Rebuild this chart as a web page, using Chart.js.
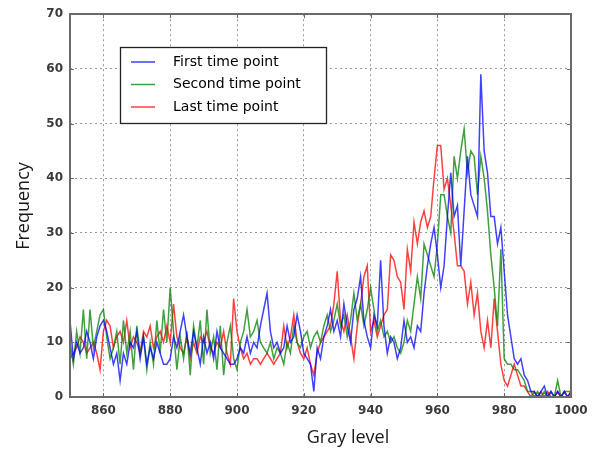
<!DOCTYPE html>
<html>
<head>
<meta charset="utf-8">
<script src="https://cdn.jsdelivr.net/npm/chart.js@4.4.0/dist/chart.umd.min.js"></script>
<style>
  html, body { margin: 0; padding: 0; background: #fff; }
  #wrap { width: 600px; height: 455px; }
</style>
</head>
<body>
<div id="wrap"><canvas id="histChart" width="600" height="455"></canvas></div>
<script>
// gray levels 850..1000, one bin per level
const grayStart = 850;
const xTicks = [860, 880, 900, 920, 940, 960, 980, 1000];
const yTicks = [0, 10, 20, 30, 40, 50, 60, 70];
const seriesNames = ["First time point", "Second time point", "Last time point"];

const firstPoint = [
  14, 7, 10, 8, 9, 12, 10, 7, 11, 13, 14, 12, 9, 6, 8, 3, 8, 6, 10, 9,
  12, 7, 11, 6, 9, 7, 10, 8, 6, 6, 7, 11, 9, 12, 15, 11, 8, 12, 9, 6,
  11, 8, 10, 7, 12, 9, 8, 7, 6, 6, 7, 9, 8, 11, 8, 10, 9, 13, 16, 19,
  12, 9, 10, 8, 9, 13, 10, 11, 15, 12, 8, 7, 6, 1, 9, 7, 11, 13, 16, 12,
  14, 11, 17, 13, 10, 16, 18, 22, 14, 11, 9, 15, 13, 25, 13, 8, 11, 10, 7, 9,
  14, 10, 11, 9, 13, 12, 19, 24, 28, 31, 26, 20, 24, 33, 41, 33, 35, 24, 34, 44,
  37, 35, 33, 59, 45, 41, 33, 33, 28, 31, 23, 15, 11, 7, 6, 7, 4, 3, 1, 1,
  0, 1, 2, 0, 1, 0, 1, 0, 1, 0, 1
];
const secondPoint = [
  10, 6, 12, 8, 16, 7, 16, 9, 12, 15, 16, 11, 7, 9, 12, 6, 14, 8, 12, 5,
  13, 8, 11, 5, 10, 6, 14, 8, 16, 10, 20, 12, 5, 11, 7, 12, 4, 13, 9, 14,
  6, 16, 8, 11, 5, 13, 4, 10, 13, 7, 5, 10, 12, 16, 11, 12, 14, 10, 9, 8,
  10, 7, 9, 8, 6, 10, 8, 13, 10, 9, 11, 12, 9, 11, 12, 10, 13, 15, 12, 14,
  17, 13, 15, 11, 14, 19, 14, 17, 13, 16, 20, 16, 12, 14, 11, 12, 10, 11, 9, 8,
  10, 14, 12, 17, 22, 18, 28, 26, 24, 22, 28, 37, 37, 33, 30, 44, 40, 45, 49, 41,
  45, 44, 37, 44, 40, 34, 26, 20, 13, 27, 7, 6, 6, 5, 5, 4, 3, 1, 1, 0,
  1, 0, 1, 0, 1, 0, 3, 0, 1, 1, 1
];
const lastPoint = [
  7, 8, 9, 11, 10, 8, 9, 10, 8, 5, 12, 14, 13, 9, 11, 12, 10, 14, 9, 11,
  10, 8, 12, 11, 13, 9, 11, 12, 10, 13, 10, 17, 11, 9, 8, 11, 7, 10, 8, 11,
  10, 12, 9, 8, 10, 9, 12, 8, 6, 18, 12, 9, 7, 8, 6, 7, 7, 6, 7, 8,
  7, 6, 7, 8, 13, 9, 11, 15, 10, 8, 7, 9, 6, 4, 8, 10, 11, 12, 13, 17,
  23, 14, 12, 15, 11, 7, 13, 17, 22, 24, 12, 14, 11, 13, 15, 16, 26, 25, 22, 21,
  16, 27, 23, 32, 28, 32, 34, 31, 33, 40, 46, 46, 38, 40, 35, 30, 24, 24, 23, 17,
  21, 15, 19, 12, 9, 14, 9, 18, 12, 6, 3, 2, 4, 6, 4, 2, 2, 1, 0, 1,
  0, 1, 0, 1, 0, 0, 1, 0, 1, 0, 1
];

const lineColors = ["rgba(0,0,255,0.75)", "rgba(0,128,0,0.75)", "rgba(255,0,0,0.75)"];

function toPoints(values) {
  return values.map((v, i) => ({ x: grayStart + i, y: v }));
}

// frame, inward ticks, axis titles and boxed legend, drawn like the original figure
const figurePlugin = {
  id: "figure",
  afterDraw(chart) {
    const ctx = chart.ctx;
    const a = chart.chartArea;
    const xs = chart.scales.x, ys = chart.scales.y;
    ctx.save();

    ctx.strokeStyle = "#6a6a6a";
    ctx.lineWidth = 2;
    ctx.strokeRect(Math.round(a.left), Math.round(a.top),
      Math.round(a.right - a.left), Math.round(a.bottom - a.top));

    ctx.lineWidth = 1;
    ctx.beginPath();
    xTicks.forEach(t => {
      const px = Math.round(xs.getPixelForValue(t)) + 0.5;
      ctx.moveTo(px, a.bottom); ctx.lineTo(px, a.bottom - 4);
      ctx.moveTo(px, a.top); ctx.lineTo(px, a.top + 4);
    });
    yTicks.forEach(t => {
      const py = Math.round(ys.getPixelForValue(t)) + 0.5;
      ctx.moveTo(a.left, py); ctx.lineTo(a.left + 4, py);
      ctx.moveTo(a.right, py); ctx.lineTo(a.right - 4, py);
    });
    ctx.stroke();

    // axis titles
    ctx.fillStyle = "#1a1a1a";
    ctx.font = "18px 'Open Sans'";
    ctx.textAlign = "center";
    ctx.textBaseline = "middle";
    ctx.fillText("Gray level", 348, 438);
    ctx.save();
    ctx.translate(24, 206);
    ctx.rotate(-Math.PI / 2);
    ctx.fillText("Frequency", 0, 0);
    ctx.restore();

    // legend
    const lx = 120.5, ly = 47.5, lw = 206, lh = 76;
    ctx.fillStyle = "#fff";
    ctx.fillRect(lx, ly, lw, lh);
    ctx.strokeStyle = "#222";
    ctx.lineWidth = 1.3;
    ctx.strokeRect(lx, ly, lw, lh);
    ctx.font = "14px 'DejaVu Sans'";
    ctx.textAlign = "left";
    chart.data.datasets.forEach((ds, i) => {
      const ry = 62 + i * 22.5;
      ctx.strokeStyle = ds.borderColor;
      ctx.lineWidth = 1.5;
      ctx.beginPath();
      ctx.moveTo(131, ry); ctx.lineTo(155, ry);
      ctx.stroke();
      ctx.fillStyle = "#000";
      ctx.fillText(ds.label, 173, ry);
    });
    ctx.restore();
  }
};

const tickFont = { family: "DejaVu Sans", size: 12, weight: "bold" };

new Chart(document.getElementById("histChart").getContext("2d"), {
  type: "line",
  data: {
    datasets: seriesNames.map((name, i) => ({
      label: name,
      data: toPoints([firstPoint, secondPoint, lastPoint][i]),
      borderColor: lineColors[i],
      borderWidth: 1.5,
      pointRadius: 0,
      tension: 0,
      fill: false
    }))
  },
  options: {
    responsive: false,
    animation: false,
    layout: { padding: { top: 10, right: 29, left: 0, bottom: 0 } },
    plugins: { legend: { display: false }, tooltip: { enabled: false } },
    scales: {
      x: {
        type: "linear",
        min: 850,
        max: 1000,
        afterBuildTicks: scale => { scale.ticks = xTicks.map(v => ({ value: v })); },
        afterFit: scale => { scale.height = 58; },
        grid: { color: "rgba(0,0,0,0.4)", drawTicks: false },
        border: { display: false, dash: [2, 3] },
        ticks: { color: "#3a3a3a", font: tickFont, padding: 7, maxRotation: 0, callback: v => String(v) }
      },
      y: {
        min: 0,
        max: 70,
        afterBuildTicks: scale => { scale.ticks = yTicks.map(v => ({ value: v })); },
        afterFit: scale => { scale.width = 70; },
        grid: { color: "rgba(0,0,0,0.4)", drawTicks: false },
        border: { display: false, dash: [2, 3] },
        ticks: { color: "#3a3a3a", font: tickFont, padding: 7, callback: v => String(v) }
      }
    }
  },
  plugins: [figurePlugin]
});
</script>
</body>
</html>
